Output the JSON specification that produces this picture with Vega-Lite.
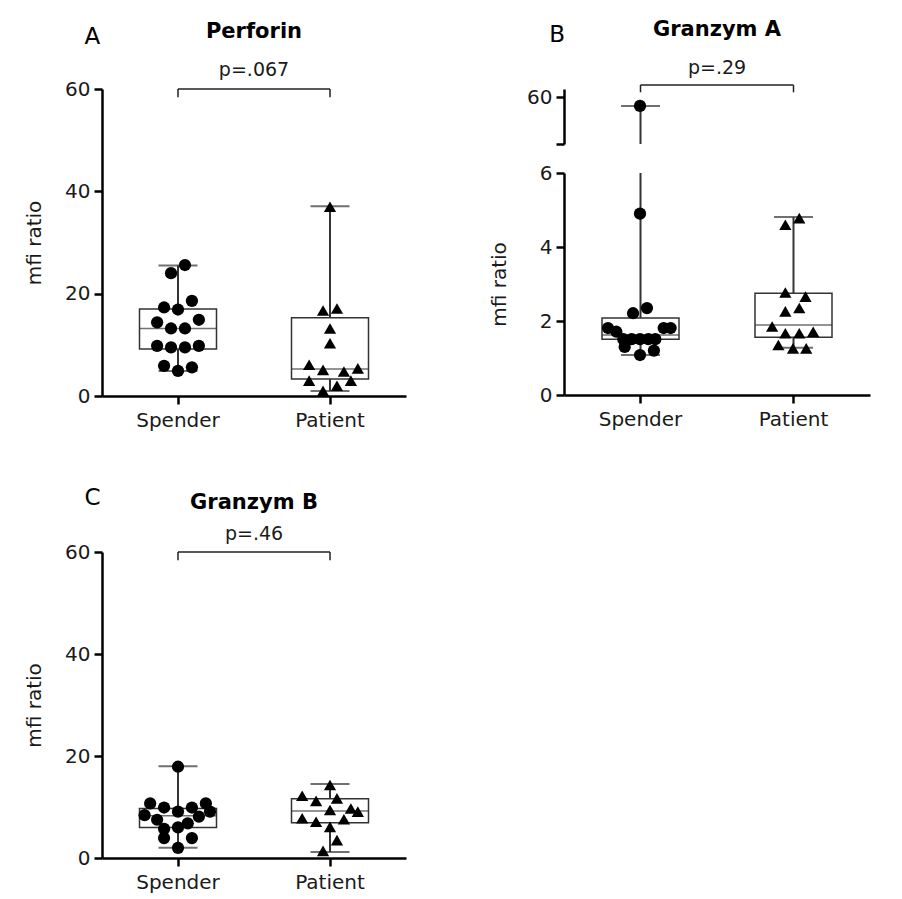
{
  "$schema": "https://vega.github.io/schema/vega-lite/v6.json",
  "background": "white",
  "padding": {"left": 24, "top": 19, "right": 5, "bottom": 5},
  "config": {
    "font": "DejaVu Sans",
    "view": {"stroke": null},
    "axis": {"domainColor": "#000", "domainWidth": 2.5, "tickColor": "#000", "tickWidth": 2.5, "tickSize": 8, "labelFont": "DejaVu Sans", "labelFontSize": 20, "labelColor": "#1a1a1a", "titleFont": "DejaVu Sans", "titleFontSize": 20, "titleFontWeight": "normal", "titleColor": "#1a1a1a", "grid": false, "labelPadding": 4},
    "title": {"font": "DejaVu Sans", "fontSize": 21, "fontWeight": "bold", "color": "#000", "offset": 19}
  },
  "datasets": {
    "ptsA": [
      {"group": "Spender", "value": 25.6, "slot": 0.5},
      {"group": "Spender", "value": 24.0, "slot": -0.5},
      {"group": "Spender", "value": 18.6, "slot": 1},
      {"group": "Spender", "value": 17.3, "slot": -1},
      {"group": "Spender", "value": 16.9, "slot": 0},
      {"group": "Spender", "value": 14.9, "slot": 1.5},
      {"group": "Spender", "value": 14.4, "slot": -1.5},
      {"group": "Spender", "value": 13.2, "slot": -0.5},
      {"group": "Spender", "value": 13.2, "slot": 0.5},
      {"group": "Spender", "value": 9.8, "slot": -1.5},
      {"group": "Spender", "value": 9.5, "slot": -0.5},
      {"group": "Spender", "value": 9.5, "slot": 0.5},
      {"group": "Spender", "value": 9.8, "slot": 1.5},
      {"group": "Spender", "value": 5.9, "slot": -1},
      {"group": "Spender", "value": 4.9, "slot": 0},
      {"group": "Spender", "value": 5.6, "slot": 1},
      {"group": "Patient", "value": 37.0, "slot": 0},
      {"group": "Patient", "value": 16.7, "slot": -0.5},
      {"group": "Patient", "value": 17.1, "slot": 0.5},
      {"group": "Patient", "value": 13.2, "slot": 0},
      {"group": "Patient", "value": 10.3, "slot": 0},
      {"group": "Patient", "value": 6.1, "slot": -1.5},
      {"group": "Patient", "value": 5.1, "slot": -0.5},
      {"group": "Patient", "value": 4.8, "slot": 1},
      {"group": "Patient", "value": 5.4, "slot": 2},
      {"group": "Patient", "value": 3.0, "slot": -1.5},
      {"group": "Patient", "value": 3.0, "slot": 1.5},
      {"group": "Patient", "value": 2.0, "slot": 0.5},
      {"group": "Patient", "value": 1.0, "slot": -0.5}
    ],
    "boxA": [
      {"group": "Spender", "min": 4.9, "q1": 9.2, "med": 13.2, "q3": 17.0, "max": 25.5},
      {"group": "Patient", "min": 1.0, "q1": 3.3, "med": 5.3, "q3": 15.3, "max": 37.1}
    ],
    "ptsB": [
      {"group": "Spender", "value": 50, "slot": 0},
      {"group": "Spender", "value": 4.9, "slot": 0},
      {"group": "Spender", "value": 2.35, "slot": 0.5},
      {"group": "Spender", "value": 2.21, "slot": -0.5},
      {"group": "Spender", "value": 1.81, "slot": -2.3},
      {"group": "Spender", "value": 1.71, "slot": -1.7},
      {"group": "Spender", "value": 1.81, "slot": 1.7},
      {"group": "Spender", "value": 1.81, "slot": 2.2},
      {"group": "Spender", "value": 1.51, "slot": -1.2},
      {"group": "Spender", "value": 1.51, "slot": -0.6},
      {"group": "Spender", "value": 1.51, "slot": 0},
      {"group": "Spender", "value": 1.51, "slot": 0.6},
      {"group": "Spender", "value": 1.51, "slot": 1.1},
      {"group": "Spender", "value": 1.3, "slot": -1.1},
      {"group": "Spender", "value": 1.2, "slot": 1.0},
      {"group": "Spender", "value": 1.08, "slot": 0},
      {"group": "Patient", "value": 4.78, "slot": 0.45},
      {"group": "Patient", "value": 4.6, "slot": -0.55},
      {"group": "Patient", "value": 2.77, "slot": -0.55},
      {"group": "Patient", "value": 2.66, "slot": 0.9},
      {"group": "Patient", "value": 2.26, "slot": -0.55},
      {"group": "Patient", "value": 2.35, "slot": 0.45},
      {"group": "Patient", "value": 1.85, "slot": -1.5},
      {"group": "Patient", "value": 1.67, "slot": -0.55},
      {"group": "Patient", "value": 1.67, "slot": 0.45},
      {"group": "Patient", "value": 1.71, "slot": 1.45},
      {"group": "Patient", "value": 1.35, "slot": -1.05},
      {"group": "Patient", "value": 1.26, "slot": 0},
      {"group": "Patient", "value": 1.26, "slot": 0.95}
    ],
    "boxB": [
      {"group": "Spender", "min": 1.08, "q1": 1.51, "med": 1.62, "q3": 2.08, "max": 50},
      {"group": "Patient", "min": 1.28, "q1": 1.56, "med": 1.89, "q3": 2.75, "max": 4.81}
    ],
    "ptsC": [
      {"group": "Spender", "value": 17.9, "slot": 0},
      {"group": "Spender", "value": 10.7, "slot": -2},
      {"group": "Spender", "value": 9.9, "slot": -1},
      {"group": "Spender", "value": 9.1, "slot": 0},
      {"group": "Spender", "value": 9.9, "slot": 1},
      {"group": "Spender", "value": 10.7, "slot": 2},
      {"group": "Spender", "value": 8.4, "slot": -2.4},
      {"group": "Spender", "value": 7.5, "slot": -1.5},
      {"group": "Spender", "value": 8.1, "slot": 1.5},
      {"group": "Spender", "value": 9.1, "slot": 2.3},
      {"group": "Spender", "value": 5.7, "slot": -1},
      {"group": "Spender", "value": 6.0, "slot": 0},
      {"group": "Spender", "value": 6.8, "slot": 0.7},
      {"group": "Spender", "value": 3.9, "slot": -1},
      {"group": "Spender", "value": 3.9, "slot": 1},
      {"group": "Spender", "value": 2.0, "slot": 0},
      {"group": "Patient", "value": 14.3, "slot": 0},
      {"group": "Patient", "value": 12.2, "slot": -2},
      {"group": "Patient", "value": 11.2, "slot": -1},
      {"group": "Patient", "value": 11.7, "slot": 0.5},
      {"group": "Patient", "value": 9.4, "slot": 0},
      {"group": "Patient", "value": 9.7, "slot": 1.5},
      {"group": "Patient", "value": 9.1, "slot": 2},
      {"group": "Patient", "value": 7.8, "slot": -2},
      {"group": "Patient", "value": 7.1, "slot": -1},
      {"group": "Patient", "value": 7.6, "slot": 1},
      {"group": "Patient", "value": 6.1, "slot": 0},
      {"group": "Patient", "value": 3.5, "slot": 0.5},
      {"group": "Patient", "value": 1.4, "slot": -0.5}
    ],
    "boxC": [
      {"group": "Spender", "min": 2.0, "q1": 6.0, "med": 8.3, "q3": 9.7, "max": 18.0},
      {"group": "Patient", "min": 1.2, "q1": 6.9, "med": 9.2, "q3": 11.6, "max": 14.5}
    ]
  },
  "columns": 2,
  "spacing": {"column": 83, "row": 56},
  "concat": [
    {
      "title": {"text": "A", "anchor": "start", "fontSize": 23, "fontWeight": "normal", "dx": 60, "dy": 28, "offset": 0},
      "vconcat": [
        {
          "width": 304, "height": 307,
          "title": {"text": "Perforin"},
          "layer": [
            {
              "layer": [
                {"data": {"name": "boxA"}, "mark": {"type": "rule", "color": "#333", "strokeWidth": 2},
                 "encoding": {"x": {"field": "group", "type": "nominal", "sort": ["Spender", "Patient"], "scale": {"paddingInner": 0, "paddingOuter": 0}, "axis": {"title": null, "labelAngle": 0, "labelPadding": 6}},
                   "y": {"field": "min", "type": "quantitative", "scale": {"domain": [0, 60], "nice": false}, "axis": {"values": [0, 20, 40, 60], "title": "mfi ratio", "titlePadding": 20}},
                   "y2": {"field": "max"}}},
                {"data": {"name": "boxA"}, "mark": {"type": "tick", "color": "#333", "size": 39, "thickness": 2},
                 "encoding": {"x": {"field": "group", "type": "nominal", "sort": ["Spender", "Patient"]}, "y": {"field": "min", "type": "quantitative"}}},
                {"data": {"name": "boxA"}, "mark": {"type": "tick", "color": "#333", "size": 39, "thickness": 2},
                 "encoding": {"x": {"field": "group", "type": "nominal", "sort": ["Spender", "Patient"]}, "y": {"field": "max", "type": "quantitative"}}},
                {"data": {"name": "boxA"}, "mark": {"type": "bar", "width": 77, "fill": "white", "stroke": "#333", "strokeWidth": 1.5},
                 "encoding": {"x": {"field": "group", "type": "nominal", "sort": ["Spender", "Patient"]}, "y": {"field": "q1", "type": "quantitative"}, "y2": {"field": "q3"}}},
                {"data": {"name": "boxA"}, "mark": {"type": "tick", "color": "#333", "size": 77, "thickness": 1.5},
                 "encoding": {"x": {"field": "group", "type": "nominal", "sort": ["Spender", "Patient"]}, "y": {"field": "med", "type": "quantitative"}}},
                {"data": {"name": "ptsA"}, "mark": {"type": "point", "filled": true, "color": "#000", "opacity": 1, "size": 150, "strokeWidth": 0},
                 "encoding": {"x": {"field": "group", "type": "nominal", "sort": ["Spender", "Patient"]},
                   "xOffset": {"field": "slot", "type": "quantitative", "scale": {"domain": [-5.43, 5.43]}},
                   "y": {"field": "value", "type": "quantitative"},
                   "shape": {"field": "group", "type": "nominal", "scale": {"domain": ["Spender", "Patient"], "range": ["circle", "triangle-up"]}, "legend": null}}}
              ]
            },
            {
              "data": {"values": [{"label": "p=.067"}]},
              "layer": [
                {"mark": {"type": "rule", "color": "#222", "strokeWidth": 1.5},
                 "encoding": {"x": {"datum": 0.5, "type": "quantitative", "scale": {"domain": [0, 2]}, "axis": null}, "x2": {"datum": 1.5}, "y": {"datum": 60, "type": "quantitative"}}},
                {"mark": {"type": "rule", "color": "#222", "strokeWidth": 1.5},
                 "encoding": {"x": {"datum": 0.5, "type": "quantitative", "scale": {"domain": [0, 2]}, "axis": null}, "y": {"datum": 60, "type": "quantitative"}, "y2": {"datum": 58.4}}},
                {"mark": {"type": "rule", "color": "#222", "strokeWidth": 1.5},
                 "encoding": {"x": {"datum": 1.5, "type": "quantitative", "scale": {"domain": [0, 2]}, "axis": null}, "y": {"datum": 60, "type": "quantitative"}, "y2": {"datum": 58.4}}},
                {"mark": {"type": "text", "fontSize": 19, "color": "#1a1a1a", "baseline": "alphabetic", "align": "center"},
                 "encoding": {"x": {"datum": 1, "type": "quantitative", "scale": {"domain": [0, 2]}, "axis": null}, "y": {"datum": 62.5, "type": "quantitative"}, "text": {"field": "label"}}}
              ]
            }
          ],
          "resolve": {"scale": {"x": "independent"}}
        }
      ]
    },
    {
      "title": {"text": "B", "anchor": "start", "fontSize": 23, "fontWeight": "normal", "dx": 60, "dy": 28, "offset": 0},
      "spacing": 17,
      "vconcat": [
        {
          "width": 306, "height": 55,
          "title": {"text": "Granzym A"},
          "layer": [
            {
              "layer": [
                {"data": {"name": "boxB"}, "transform": [{"filter": "datum.max > 6"}], "mark": {"type": "rule", "color": "#333", "strokeWidth": 2, "clip": true},
                 "encoding": {"x": {"field": "group", "type": "nominal", "sort": ["Spender", "Patient"], "scale": {"domain": ["Spender", "Patient"], "paddingInner": 0, "paddingOuter": 0}, "axis": null},
                   "y": {"field": "min", "type": "quantitative", "scale": {"domain": [5, 70], "nice": false, "zero": false}, "axis": {"values": [5, 20, 60], "labelExpr": "datum.value == 5 ? '' : datum.label", "title": null}},
                   "y2": {"field": "max"}}},
                {"data": {"name": "boxB"}, "transform": [{"filter": "datum.max > 6"}], "mark": {"type": "tick", "color": "#333", "size": 39, "thickness": 2, "clip": true},
                 "encoding": {"x": {"field": "group", "type": "nominal", "sort": ["Spender", "Patient"]}, "y": {"field": "max", "type": "quantitative"}}},
                {"data": {"name": "ptsB"}, "transform": [{"filter": "datum.value > 6"}], "mark": {"type": "point", "filled": true, "color": "#000", "opacity": 1, "size": 150, "strokeWidth": 0, "clip": true},
                 "encoding": {"x": {"field": "group", "type": "nominal", "sort": ["Spender", "Patient"]},
                   "xOffset": {"field": "slot", "type": "quantitative", "scale": {"domain": [-5.46, 5.46]}},
                   "y": {"field": "value", "type": "quantitative"},
                   "shape": {"field": "group", "type": "nominal", "scale": {"domain": ["Spender", "Patient"], "range": ["circle", "triangle-up"]}, "legend": null}}}
              ]
            },
            {
              "data": {"values": [{"label": "p=.29"}]},
              "layer": [
                {"mark": {"type": "rule", "color": "#222", "strokeWidth": 1.5},
                 "encoding": {"x": {"datum": 0.5, "type": "quantitative", "scale": {"domain": [0, 2]}, "axis": null}, "x2": {"datum": 1.5}, "y": {"datum": 74.7, "type": "quantitative"}}},
                {"mark": {"type": "rule", "color": "#222", "strokeWidth": 1.5},
                 "encoding": {"x": {"datum": 0.5, "type": "quantitative", "scale": {"domain": [0, 2]}, "axis": null}, "y": {"datum": 74.7, "type": "quantitative"}, "y2": {"datum": 66.1}}},
                {"mark": {"type": "rule", "color": "#222", "strokeWidth": 1.5},
                 "encoding": {"x": {"datum": 1.5, "type": "quantitative", "scale": {"domain": [0, 2]}, "axis": null}, "y": {"datum": 74.7, "type": "quantitative"}, "y2": {"datum": 66.1}}},
                {"mark": {"type": "text", "fontSize": 19, "color": "#1a1a1a", "baseline": "alphabetic", "align": "center"},
                 "encoding": {"x": {"datum": 1, "type": "quantitative", "scale": {"domain": [0, 2]}, "axis": null}, "y": {"datum": 87.4, "type": "quantitative"}, "text": {"field": "label"}}}
              ]
            }
          ],
          "resolve": {"scale": {"x": "independent"}}
        },
        {
          "width": 306, "height": 222,
          "layer": [
            {"data": {"name": "boxB"}, "mark": {"type": "rule", "color": "#333", "strokeWidth": 2, "clip": true},
             "encoding": {"x": {"field": "group", "type": "nominal", "sort": ["Spender", "Patient"], "scale": {"paddingInner": 0, "paddingOuter": 0}, "axis": {"title": null, "labelAngle": 0, "labelPadding": 6}},
               "y": {"field": "min", "type": "quantitative", "scale": {"domain": [0, 6], "nice": false}, "axis": {"values": [0, 2, 4, 6], "title": "mfi ratio", "titlePadding": 30}},
               "y2": {"field": "max"}}},
            {"data": {"name": "boxB"}, "mark": {"type": "tick", "color": "#333", "size": 39, "thickness": 2, "clip": true},
             "encoding": {"x": {"field": "group", "type": "nominal", "sort": ["Spender", "Patient"]}, "y": {"field": "min", "type": "quantitative"}}},
            {"data": {"name": "boxB"}, "mark": {"type": "tick", "color": "#333", "size": 39, "thickness": 2, "clip": true},
             "encoding": {"x": {"field": "group", "type": "nominal", "sort": ["Spender", "Patient"]}, "y": {"field": "max", "type": "quantitative"}}},
            {"data": {"name": "boxB"}, "mark": {"type": "bar", "width": 77, "fill": "white", "stroke": "#333", "strokeWidth": 1.5, "clip": true},
             "encoding": {"x": {"field": "group", "type": "nominal", "sort": ["Spender", "Patient"]}, "y": {"field": "q1", "type": "quantitative"}, "y2": {"field": "q3"}}},
            {"data": {"name": "boxB"}, "mark": {"type": "tick", "color": "#333", "size": 77, "thickness": 1.5, "clip": true},
             "encoding": {"x": {"field": "group", "type": "nominal", "sort": ["Spender", "Patient"]}, "y": {"field": "med", "type": "quantitative"}}},
            {"data": {"name": "ptsB"}, "mark": {"type": "point", "filled": true, "color": "#000", "opacity": 1, "size": 150, "strokeWidth": 0, "clip": true},
             "encoding": {"x": {"field": "group", "type": "nominal", "sort": ["Spender", "Patient"]},
               "xOffset": {"field": "slot", "type": "quantitative", "scale": {"domain": [-5.46, 5.46]}},
               "y": {"field": "value", "type": "quantitative"},
               "shape": {"field": "group", "type": "nominal", "scale": {"domain": ["Spender", "Patient"], "range": ["circle", "triangle-up"]}, "legend": null}}}
          ]
        }
      ]
    },
    {
      "title": {"text": "C", "anchor": "start", "fontSize": 23, "fontWeight": "normal", "dx": 60, "dy": 18, "offset": 0},
      "vconcat": [
        {
          "width": 304, "height": 306,
          "title": {"text": "Granzym B", "offset": 12},
          "layer": [
            {
              "layer": [
                {"data": {"name": "boxC"}, "mark": {"type": "rule", "color": "#333", "strokeWidth": 2},
                 "encoding": {"x": {"field": "group", "type": "nominal", "sort": ["Spender", "Patient"], "scale": {"paddingInner": 0, "paddingOuter": 0}, "axis": {"title": null, "labelAngle": 0, "labelPadding": 6}},
                   "y": {"field": "min", "type": "quantitative", "scale": {"domain": [0, 60], "nice": false}, "axis": {"values": [0, 20, 40, 60], "title": "mfi ratio", "titlePadding": 20}},
                   "y2": {"field": "max"}}},
                {"data": {"name": "boxC"}, "mark": {"type": "tick", "color": "#333", "size": 39, "thickness": 2},
                 "encoding": {"x": {"field": "group", "type": "nominal", "sort": ["Spender", "Patient"]}, "y": {"field": "min", "type": "quantitative"}}},
                {"data": {"name": "boxC"}, "mark": {"type": "tick", "color": "#333", "size": 39, "thickness": 2},
                 "encoding": {"x": {"field": "group", "type": "nominal", "sort": ["Spender", "Patient"]}, "y": {"field": "max", "type": "quantitative"}}},
                {"data": {"name": "boxC"}, "mark": {"type": "bar", "width": 77, "fill": "white", "stroke": "#333", "strokeWidth": 1.5},
                 "encoding": {"x": {"field": "group", "type": "nominal", "sort": ["Spender", "Patient"]}, "y": {"field": "q1", "type": "quantitative"}, "y2": {"field": "q3"}}},
                {"data": {"name": "boxC"}, "mark": {"type": "tick", "color": "#333", "size": 77, "thickness": 1.5},
                 "encoding": {"x": {"field": "group", "type": "nominal", "sort": ["Spender", "Patient"]}, "y": {"field": "med", "type": "quantitative"}}},
                {"data": {"name": "ptsC"}, "mark": {"type": "point", "filled": true, "color": "#000", "opacity": 1, "size": 150, "strokeWidth": 0},
                 "encoding": {"x": {"field": "group", "type": "nominal", "sort": ["Spender", "Patient"]},
                   "xOffset": {"field": "slot", "type": "quantitative", "scale": {"domain": [-5.43, 5.43]}},
                   "y": {"field": "value", "type": "quantitative"},
                   "shape": {"field": "group", "type": "nominal", "scale": {"domain": ["Spender", "Patient"], "range": ["circle", "triangle-up"]}, "legend": null}}}
              ]
            },
            {
              "data": {"values": [{"label": "p=.46"}]},
              "layer": [
                {"mark": {"type": "rule", "color": "#222", "strokeWidth": 1.5},
                 "encoding": {"x": {"datum": 0.5, "type": "quantitative", "scale": {"domain": [0, 2]}, "axis": null}, "x2": {"datum": 1.5}, "y": {"datum": 60, "type": "quantitative"}}},
                {"mark": {"type": "rule", "color": "#222", "strokeWidth": 1.5},
                 "encoding": {"x": {"datum": 0.5, "type": "quantitative", "scale": {"domain": [0, 2]}, "axis": null}, "y": {"datum": 60, "type": "quantitative"}, "y2": {"datum": 58.4}}},
                {"mark": {"type": "rule", "color": "#222", "strokeWidth": 1.5},
                 "encoding": {"x": {"datum": 1.5, "type": "quantitative", "scale": {"domain": [0, 2]}, "axis": null}, "y": {"datum": 60, "type": "quantitative"}, "y2": {"datum": 58.4}}},
                {"mark": {"type": "text", "fontSize": 19, "color": "#1a1a1a", "baseline": "alphabetic", "align": "center"},
                 "encoding": {"x": {"datum": 1, "type": "quantitative", "scale": {"domain": [0, 2]}, "axis": null}, "y": {"datum": 62.4, "type": "quantitative"}, "text": {"field": "label"}}}
              ]
            }
          ],
          "resolve": {"scale": {"x": "independent"}}
        }
      ]
    }
  ]
}
